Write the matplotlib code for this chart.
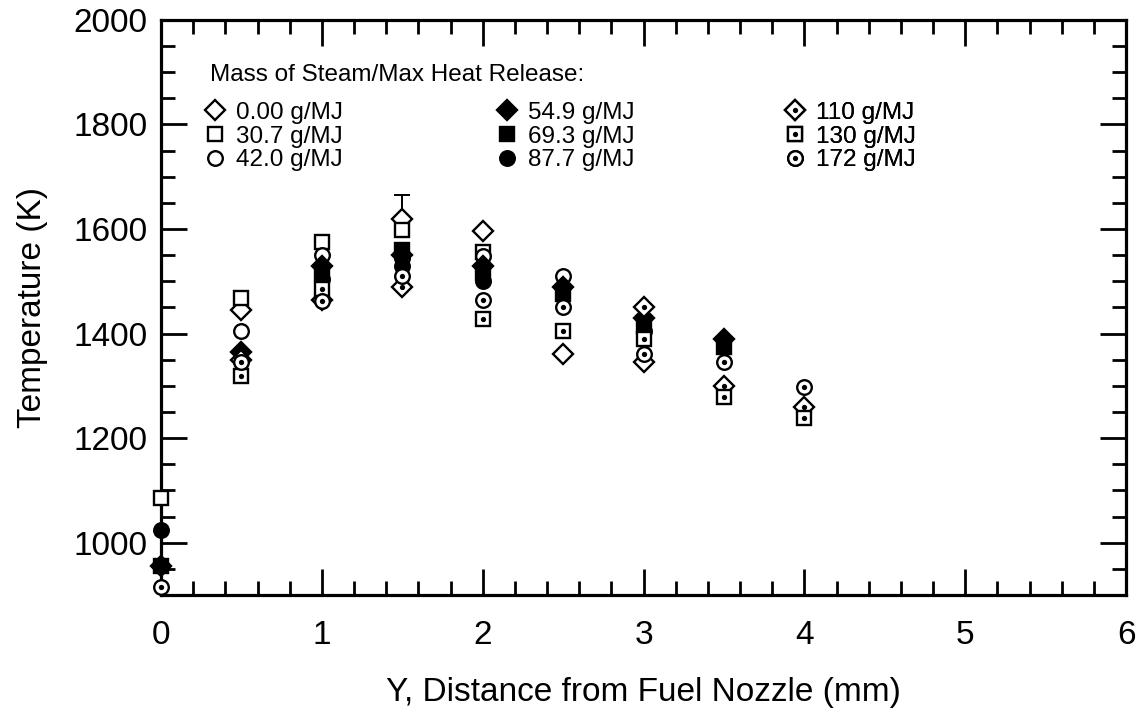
import matplotlib
matplotlib.use("Agg")
import matplotlib.pyplot as plt
from matplotlib.ticker import MultipleLocator
from matplotlib.legend_handler import HandlerTuple
import numpy as np

plt.rcParams['font.family'] = ['Liberation Sans', 'DejaVu Sans']

###########   Dados   ##########

nan = np.nan
distancia = [0, 0.5, 1, 1.5, 2, 2.5, 3, 3.5, 4]   # mm

rotulos = ['0.00 g/MJ', '30.7 g/MJ', '42.0 g/MJ',
           '54.9 g/MJ', '69.3 g/MJ', '87.7 g/MJ',
           '110 g/MJ', '130 g/MJ', '172 g/MJ']

t_000 = [nan, 1445, 1465, 1620, 1597, 1360, 1345, nan, nan]
t_307 = [1085, 1468, 1575, 1598, 1557, nan, nan, nan, nan]
t_420 = [nan, 1405, 1550, 1545, 1548, 1510, nan, nan, nan]
t_549 = [955, 1365, 1530, 1550, 1530, 1490, 1430, 1390, nan]
t_693 = [955, nan, 1515, 1560, 1515, 1475, 1415, 1375, nan]
t_877 = [1025, nan, 1505, 1530, 1500, nan, 1405, nan, nan]
t_110 = [nan, 1350, nan, 1490, nan, nan, 1450, 1300, 1260]
t_130 = [nan, 1318, 1485, nan, 1427, 1405, 1390, 1278, 1238]
t_172 = [915, 1345, 1463, 1510, 1465, 1450, 1360, 1345, 1298]

# barra de erro (só a parte de cima aparece) no ponto de 0.00 g/MJ em 1.5 mm
erro_x = [1.5]
erro_y = [1620]
erro_sup = [45]

series = [t_000, t_307, t_420, t_549, t_693, t_877, t_110, t_130, t_172]
marcadores = ['D', 's', 'o', 'D', 's', 'o', 'D', 's', 'o']
preenchido = [False, False, False, True, True, True, False, False, False]
com_ponto = [False, False, False, False, False, False, True, True, True]

tam = {'D': 10, 's': 10.5, 'o': 10.5}


def main():
    fig = plt.figure(figsize=(11.43, 7.17), dpi=100)
    ax = fig.add_axes([0.1409, 0.1702, 0.8443, 0.8020])

    ax.errorbar(erro_x, erro_y, yerr=[[0], erro_sup], fmt='none', ecolor='black',
                elinewidth=1.4, capsize=6, capthick=1.4, zorder=2, clip_on=False)

    handles = []
    for y, m, cheio, ponto in zip(series, marcadores, preenchido, com_ponto):
        linha, = ax.plot(distancia, y, ls='none', marker=m, ms=tam[m],
                         mfc='black' if cheio else 'white', mec='black', mew=1.7,
                         zorder=3, clip_on=False)
        if ponto:
            p, = ax.plot(distancia, y, ls='none', marker='o', ms=3.8,
                         mfc='black', mec='black', mew=0, zorder=3, clip_on=False)
            handles.append((linha, p))
        else:
            handles.append(linha)

    ax.set_xlim(0, 6)
    ax.set_ylim(900, 2000)
    ax.xaxis.set_major_locator(MultipleLocator(1))
    ax.xaxis.set_minor_locator(MultipleLocator(0.2))
    ax.yaxis.set_major_locator(MultipleLocator(200))
    ax.yaxis.set_minor_locator(MultipleLocator(50))
    ax.tick_params(which='both', direction='in', top=True, right=True, width=2.0)
    ax.tick_params(which='major', length=19)
    ax.tick_params(which='minor', length=10)
    ax.tick_params(axis='y', which='major', labelsize=24, pad=10)
    ax.tick_params(axis='x', which='major', labelsize=24, pad=18)
    for s in ax.spines.values():
        s.set_linewidth(2.3)

    ax.set_xlabel('Y, Distance from Fuel Nozzle (mm)', fontsize=24, labelpad=19)
    ax.set_ylabel('Temperature (K)', fontsize=24, labelpad=18)

    # legenda em três colunas + título
    ax.text(0.051, 0.905, 'Mass of Steam/Max Heat Release:', transform=ax.transAxes,
            fontsize=17.5, ha='left', va='center')
    colunas = [0.0435, 0.346, 0.6446]
    for k, x0 in enumerate(colunas):
        leg = ax.legend(handles[3 * k:3 * k + 3], rotulos[3 * k:3 * k + 3],
                        loc='upper left', bbox_to_anchor=(x0, 0.8576), frameon=False,
                        fontsize=17.5, borderpad=0, borderaxespad=0, handlelength=1.0,
                        handletextpad=0.35, labelspacing=0.07,
                        handler_map={tuple: HandlerTuple(ndivide=1)})
        ax.add_artist(leg)

    fig.savefig('out.png', dpi=100)


if __name__ == "__main__":
    main()
